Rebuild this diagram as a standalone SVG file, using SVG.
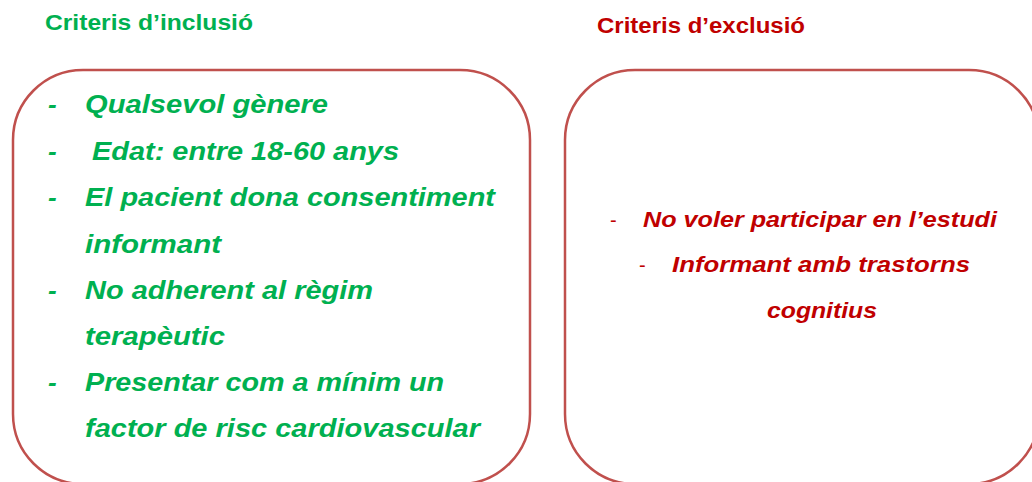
<svg xmlns="http://www.w3.org/2000/svg" width="1032" height="482" viewBox="0 0 1032 482">
  <style>
    .box { fill: #ffffff; stroke: #c0504d; stroke-width: 2.5; }
    .title { font-family: "Liberation Sans", Arial, sans-serif; font-weight: bold; font-size: 22px; }
    .inc { font-family: "Liberation Sans", Arial, sans-serif; font-weight: bold; font-style: italic; font-size: 26px; fill: #00b050; }
    .exc { font-family: "Liberation Sans", Arial, sans-serif; font-weight: bold; font-style: italic; font-size: 22px; fill: #c00000; }
    .dash { font-family: "Liberation Sans", Arial, sans-serif; font-size: 20px; fill: #c00000; }
    .green { fill: #00b050; }
    .red { fill: #c00000; }
  </style>
  <rect width="1032" height="482" fill="#ffffff"/>

  <g id="title-inclusio">
    <text class="title green" x="45" y="30" textLength="208" lengthAdjust="spacingAndGlyphs">Criteris d’inclusió</text>
  </g>
  <g id="title-exclusio">
    <text class="title red" x="597" y="33" textLength="208" lengthAdjust="spacingAndGlyphs">Criteris d’exclusió</text>
  </g>

  <g id="box-inclusio">
    <rect class="box" x="13" y="70" width="517" height="414" rx="70" ry="70"/>
    <text class="inc" x="48" y="113">-</text>
    <text class="inc" x="85" y="113" textLength="243" lengthAdjust="spacingAndGlyphs">Qualsevol gènere</text>
    <text class="inc" x="48" y="160">-</text>
    <text class="inc" x="92" y="160" textLength="307" lengthAdjust="spacingAndGlyphs">Edat: entre 18-60 anys</text>
    <text class="inc" x="48" y="206">-</text>
    <text class="inc" x="85" y="206" textLength="410" lengthAdjust="spacingAndGlyphs">El pacient dona consentiment</text>
    <text class="inc" x="85" y="253" textLength="136" lengthAdjust="spacingAndGlyphs">informant</text>
    <text class="inc" x="48" y="299">-</text>
    <text class="inc" x="85" y="299" textLength="288" lengthAdjust="spacingAndGlyphs">No adherent al règim</text>
    <text class="inc" x="85" y="345" textLength="140" lengthAdjust="spacingAndGlyphs">terapèutic</text>
    <text class="inc" x="48" y="391">-</text>
    <text class="inc" x="85" y="391" textLength="359" lengthAdjust="spacingAndGlyphs">Presentar com a mínim un</text>
    <text class="inc" x="85" y="437" textLength="395" lengthAdjust="spacingAndGlyphs">factor de risc cardiovascular</text>
  </g>

  <g id="box-exclusio">
    <rect class="box" x="565" y="70" width="474" height="414" rx="70" ry="70"/>
    <text class="dash" x="610" y="227">-</text>
    <text class="exc" x="643" y="227" textLength="354" lengthAdjust="spacingAndGlyphs">No voler participar en l’estudi</text>
    <text class="dash" x="639" y="272">-</text>
    <text class="exc" x="672" y="272" textLength="298" lengthAdjust="spacingAndGlyphs">Informant amb trastorns</text>
    <text class="exc" x="767" y="318" textLength="110" lengthAdjust="spacingAndGlyphs">cognitius</text>
  </g>

  <g id="connectors"></g>
</svg>
